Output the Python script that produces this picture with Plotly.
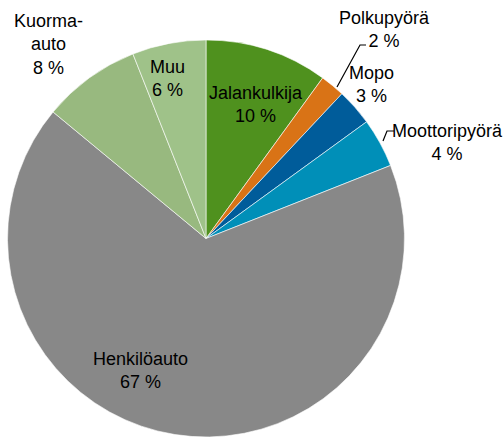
import plotly.graph_objects as go

categories = ["Jalankulkija", "Polkupyörä", "Mopo", "Moottoripyörä", "Henkilöauto", "Kuorma-auto", "Muu"]
values = [10, 2, 3, 4, 67, 8, 6]
colors = ["#4f911e", "#d97316", "#005c9a", "#008fb8", "#888888", "#98b97f", "#9fc289"]

W, H = 504, 437
# label block centres in pixels (layout only)
label_pos = {
    "Jalankulkija": (256, 104),
    "Polkupyörä": (384, 29),
    "Mopo": (371, 84),
    "Moottoripyörä": (447, 142),
    "Henkilöauto": (140, 370),
    "Kuorma-auto": (48, 44),
    "Muu": (167, 79),
}
leaders = {
    "Polkupyörä": [(337, 87), (360, 45), (366, 45)],
    "Moottoripyörä": [(383, 141), (387, 131), (394, 131)],
}

cx, cy, r = 206, 238.5, 198.5

fig = go.Figure(go.Pie(
    labels=categories, values=values, sort=False, direction="clockwise",
    rotation=0, textinfo="none", hoverinfo="label+percent",
    marker=dict(colors=colors, line=dict(color="white", width=0.6)),
    domain=dict(x=[(cx - r) / W, (cx + r) / W], y=[1 - (cy + r) / H, 1 - (cy - r) / H]),
    showlegend=False,
))

def px(x, y):
    return x / W, 1 - y / H

annotations = []
for cat, val in zip(categories, values):
    name = cat.replace("-", "-<br>") if cat == "Kuorma-auto" else cat
    x, y = px(*label_pos[cat])
    annotations.append(dict(
        text=f"{name}<br>{val} %", x=x, y=y, xref="paper", yref="paper",
        xanchor="center", yanchor="middle", showarrow=False, align="center",
        font=dict(family="Liberation Sans, Arial", size=18, color="black"),
    ))

shapes = []
for cat, pts in leaders.items():
    path = "M " + " L ".join(f"{px(x, y)[0]},{px(x, y)[1]}" for x, y in pts)
    shapes.append(dict(type="path", path=path, xref="paper", yref="paper",
                       line=dict(color="black", width=1.2)))

fig.update_layout(
    width=W, height=H, margin=dict(l=0, r=0, t=0, b=0),
    paper_bgcolor="white", plot_bgcolor="white",
    annotations=annotations, shapes=shapes,
)
fig.write_html("out.html", config={"displayModeBar": False},
               post_script="document.body.style.margin='0';document.body.style.overflow='hidden';")
